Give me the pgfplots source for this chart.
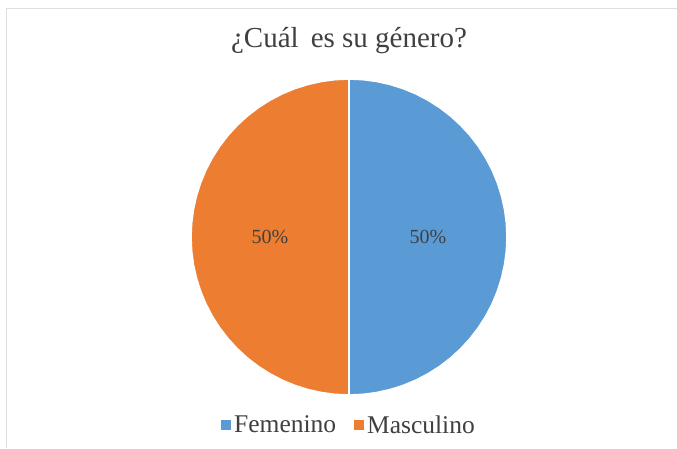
\documentclass[border=0pt]{standalone}
\usepackage{pgfplots}
\pgfplotsset{compat=1.18}
\usepackage{fontspec}
\setmainfont{Liberation Serif}
\definecolor{cblue}{HTML}{5B9BD5}
\definecolor{corange}{HTML}{ED7D31}
\definecolor{ctext}{HTML}{404040}
\begin{document}
\begin{tikzpicture}
\useasboundingbox (0pt,0pt) rectangle (677pt,448pt);
\draw[gray!25, line width=0.8pt] (6pt,0pt) -- (6pt,440pt) -- (677pt,440pt);
\node[font=\fontsize{29}{32}\selectfont, text=ctext] at (349pt,407pt) {¿Cuál\, es su género?};
\begin{axis}[
  at={(349pt,211pt)}, anchor=center,
  scale only axis, width=316pt, height=316pt,
  xmin=-1, xmax=1, ymin=-1, ymax=1,
  hide axis, clip=false,
  legend columns=2,
  legend style={draw=none, fill=none, at={(0.5,-0.095)}, anchor=center,
    font=\fontsize{25.5}{28}\selectfont, text=ctext,
    /tikz/every odd column/.append style={column sep=1pt},
    /tikz/every even column/.append style={column sep=16pt}},
  legend cell align=left,
  legend image code/.code={\fill[#1, draw=none] (0pt,-5pt) rectangle (10pt,5pt);},
]
\addplot[fill=cblue, draw=white, line width=1.6pt, data cs=polar] coordinates {
(0,0) (90,1) (85,1) (80,1) (75,1) (70,1) (65,1) (60,1) (55,1) (50,1) (45,1)
(40,1) (35,1) (30,1) (25,1) (20,1) (15,1) (10,1) (5,1) (0,1) (-5,1) (-10,1)
(-15,1) (-20,1) (-25,1) (-30,1) (-35,1) (-40,1) (-45,1) (-50,1) (-55,1) (-60,1)
(-65,1) (-70,1) (-75,1) (-80,1) (-85,1) (-90,1) (0,0)};
\addlegendentry{Femenino}
\addplot[fill=corange, draw=white, line width=1.6pt, data cs=polar] coordinates {
(0,0) (90,1) (95,1) (100,1) (105,1) (110,1) (115,1) (120,1) (125,1) (130,1) (135,1)
(140,1) (145,1) (150,1) (155,1) (160,1) (165,1) (170,1) (175,1) (180,1) (185,1) (190,1)
(195,1) (200,1) (205,1) (210,1) (215,1) (220,1) (225,1) (230,1) (235,1) (240,1)
(245,1) (250,1) (255,1) (260,1) (265,1) (270,1) (0,0)};
\addlegendentry{Masculino}
\node[font=\fontsize{20}{22}\selectfont, text=ctext] at (axis cs:0.5,0) {50\%};
\node[font=\fontsize{20}{22}\selectfont, text=ctext] at (axis cs:-0.5,0) {50\%};
\end{axis}
\end{tikzpicture}
\end{document}
